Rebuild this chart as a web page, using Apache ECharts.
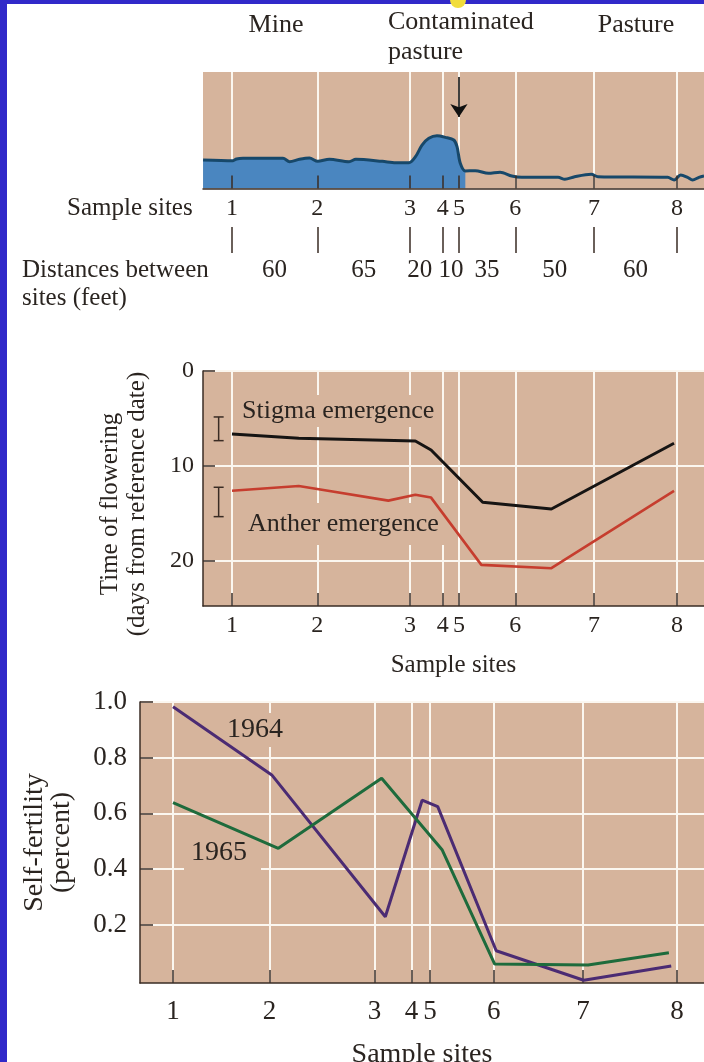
<!DOCTYPE html>
<html>
<head>
<meta charset="utf-8">
<script src="https://cdn.jsdelivr.net/npm/echarts@6/dist/echarts.min.js"></script>
<style>
html,body{margin:0;padding:0;background:#3129c9;}
#c{width:704px;height:1062px;}
</style>
</head>
<body>
<div id="c"></div>
<script>
// ---------------- DATA ----------------
const sites = ['1', '2', '3', '4', '5', '6', '7', '8'];
// position of each sample site along the transect (feet from site 1)
const siteX = [0, 57.5, 120, 142, 153, 191, 244, 300];
const distances = ['60', '65', '20', '10', '35', '50', '60'];
// where the distance figures sit along the transect (feet)
const distanceLabelX = [28.7, 88.8, 126.6, 147.6, 171.9, 217.5, 272];
const zoneLabels = ['Mine', 'Contaminated\npasture', 'Pasture'];

// top panel: soil-contamination profile along the transect
const profileX = [-19.5, 0.7, 3.0, 7.4, 34.4, 38.8, 45.5, 52.2, 57.8, 65.6, 78.9, 83.5, 101.4, 110.3, 119.3, 123.7,
  128.1, 132.7, 138.2, 143.9, 149.5, 151.7, 153.9, 157.3, 164.0, 172.9, 180.7, 188.6, 195.3, 219.8, 224.4, 231.0,
  242.2, 246.7, 293.7, 298.1, 302.5, 307.1, 310.5, 314.8, 318.2];
const profileLevel = [24.5, 23.9, 25.3, 25.9, 25.9, 23.0, 25.1, 26.2, 23.3, 25.1, 23.0, 25.1, 23.3, 22.1, 22.1, 27.3,
  37.3, 43.1, 45.3, 43.9, 41.6, 35.9, 21.6, 15.0, 15.3, 13.0, 13.9, 10.7, 9.6, 9.6, 7.9, 10.1,
  12.2, 10.1, 9.6, 7.3, 11.6, 9.6, 7.3, 9.6, 10.7];
const contaminatedUntilX = 157.3;   // blue fill stops here
const arrowAtSite = 4;              // index of site 5
const arrowFromTo = [95.7, 61.4];

// middle panel: time of flowering (days from reference date)
const stigmaX = [0, 45, 123.6, 134.2, 169, 215.3, 298];
const stigmaDays = [6.65, 7.10, 7.38, 8.33, 13.85, 14.56, 7.63];
const antherX = [0, 45, 58.5, 105.4, 123.6, 134.2, 168.1, 215.3, 298];
const antherDays = [12.63, 12.13, 12.48, 13.68, 13.05, 13.36, 20.46, 20.81, 12.66];
const errorBarX = -9;
const errorBarLow = [4.85, 12.27];
const errorBarHigh = [7.35, 15.37];
const dayTicks = [0, 10, 20];

// bottom panel: self-fertility
const fert1964X = [0, 58.8, 126.4, 148.3, 157.6, 192.4, 244.5, 296.6];
const fert1964 = [0.983, 0.738, 0.228, 0.647, 0.624, 0.106, 0.0, 0.051];
const fert1965X = [0, 62.7, 124.2, 160.3, 191.5, 247.1, 295.2];
const fert1965 = [0.638, 0.474, 0.726, 0.468, 0.058, 0.055, 0.099];
const fertTicks = [0.2, 0.4, 0.6, 0.8, 1.0];

// ---------------- STYLE ----------------
const FONT = '"Liberation Serif","Times New Roman",serif';
const INK = '#2a2420';
const BEIGE = '#d6b49c';
const GRIDW = '#fbf7f0';
const AXIS = '#3a2c24';
const FILL = '#4a86c0';

const zip = (xs, ys) => xs.map((x, i) => [x, ys[i]]);
const nearestIdx = (arr, v) => { let b = 0; arr.forEach((a, i) => { if (Math.abs(a - v) < Math.abs(arr[b] - v)) b = i; }); return b; };
const siteFmt = v => sites[nearestIdx(siteX, v)];

const X1 = [-19.55, 318.2];   // top & middle panels
const X3 = [-19.64, 316.1];   // bottom panel

function bottomSiteAxis(gridIndex, range, fontSize, margin, name, nameGap, nameSize) {
  return {
    type: 'value', gridIndex, min: range[0], max: range[1], position: 'bottom', z: 0,
    name, nameLocation: 'middle', nameGap,
    nameTextStyle: { color: INK, fontFamily: FONT, fontSize: nameSize },
    axisLine: { show: true, onZero: false, lineStyle: { color: AXIS, width: 1.5 } },
    axisTick: { show: true, inside: true, length: 13, customValues: siteX, lineStyle: { color: AXIS, width: 1.5 } },
    axisLabel: { show: true, customValues: siteX, formatter: siteFmt, color: INK, fontFamily: FONT, fontSize, margin },
    splitLine: { show: true, lineStyle: { color: GRIDW, width: 2 } }
  };
}

const txt = (text, x, y, size, extra, z) => ({
  type: 'text', x, y, z: z == null ? 50 : z, silent: true,
  style: Object.assign({
    text, fill: INK, font: size + 'px ' + FONT,
    textAlign: 'left', textVerticalAlign: 'middle', align: 'left', verticalAlign: 'middle'
  }, extra || {})
});

const chart = echarts.init(document.getElementById('c'), null, { renderer: 'canvas' });
chart.setOption({
  animation: false,
  backgroundColor: '#3129c9',
  textStyle: { fontFamily: FONT },
  grid: [
    { left: 203, right: 0, top: 72, height: 116.5, show: true, backgroundColor: BEIGE, borderWidth: 0, outerBoundsMode: 'none' },
    { left: 203, right: 0, top: 227, height: 26, show: false, outerBoundsMode: 'none' },
    { left: 203, right: 0, top: 371, height: 235, show: true, backgroundColor: BEIGE, borderWidth: 0, outerBoundsMode: 'none' },
    { left: 140, right: 0, top: 702, height: 281, show: true, backgroundColor: BEIGE, borderWidth: 0, outerBoundsMode: 'none' }
  ],
  xAxis: [
    { // top panel: white site lines only
      type: 'value', gridIndex: 0, min: X1[0], max: X1[1], position: 'top', z: 0,
      axisLine: { show: false, onZero: false },
      axisTick: { show: false, customValues: siteX },
      axisLabel: { show: false, customValues: siteX },
      splitLine: { show: true, lineStyle: { color: GRIDW, width: 2 } }
    },
    { // top panel: axis line, ticks and site numbers (above the fill)
      type: 'value', gridIndex: 0, min: X1[0], max: X1[1], position: 'bottom', z: 5,
      axisLine: { show: true, onZero: false, lineStyle: { color: AXIS, width: 1.5 } },
      axisTick: { show: true, inside: true, length: 13, customValues: siteX, lineStyle: { color: AXIS, width: 1.5 } },
      axisLabel: { show: true, customValues: siteX, formatter: siteFmt, color: INK, fontFamily: FONT, fontSize: 24, margin: 8 },
      splitLine: { show: false }
    },
    { // distance strip
      type: 'value', gridIndex: 1, min: X1[0], max: X1[1], position: 'bottom',
      axisLine: { show: false, onZero: false },
      axisTick: { show: true, inside: true, length: 26, customValues: siteX, lineStyle: { color: AXIS, width: 1.5 } },
      axisLabel: { show: true, customValues: distanceLabelX, formatter: v => distances[nearestIdx(distanceLabelX, v)],
        color: INK, fontFamily: FONT, fontSize: 25, margin: 5 },
      splitLine: { show: false }
    },
    bottomSiteAxis(2, X1, 24, 8, 'Sample sites', 47, 25),
    bottomSiteAxis(3, X3, 27, 15, 'Sample sites', 58, 28)
  ],
  yAxis: [
    { type: 'value', gridIndex: 0, min: 0, max: 100, show: false, splitLine: { show: false } },
    { type: 'value', gridIndex: 1, min: 0, max: 1, show: false, splitLine: { show: false } },
    {
      type: 'value', gridIndex: 2, min: 0, max: 24.8, inverse: true, position: 'left',
      name: 'Time of flowering\n(days from reference date)', nameLocation: 'middle', nameGap: 52,
      nameTextStyle: { color: INK, fontFamily: FONT, fontSize: 25, lineHeight: 27, padding: [0, 31, 0, 0] },
      axisLine: { show: true, onZero: false, lineStyle: { color: AXIS, width: 1.5 } },
      axisTick: { show: true, inside: true, length: 12, customValues: dayTicks, lineStyle: { color: AXIS, width: 1.5 } },
      axisLabel: { show: true, customValues: dayTicks, color: INK, fontFamily: FONT, fontSize: 24, margin: 9 },
      splitLine: { show: true, lineStyle: { color: GRIDW, width: 2 } }
    },
    {
      type: 'value', gridIndex: 3, min: -0.01, max: 1.0, position: 'left',
      name: 'Self-fertility\n(percent)', nameLocation: 'middle', nameGap: 65,
      nameTextStyle: { color: INK, fontFamily: FONT, fontSize: 28, lineHeight: 27 },
      axisLine: { show: true, onZero: false, lineStyle: { color: AXIS, width: 1.5 } },
      axisTick: { show: true, inside: true, length: 13, customValues: fertTicks, lineStyle: { color: AXIS, width: 1.5 } },
      axisLabel: { show: true, customValues: fertTicks, formatter: v => v.toFixed(1), color: INK, fontFamily: FONT, fontSize: 27, margin: 13 },
      splitLine: { show: true, lineStyle: { color: GRIDW, width: 2 } }
    }
  ],
  series: [
    {
      type: 'line', name: 'contaminated soil', xAxisIndex: 0, yAxisIndex: 0, silent: true, z: 2,
      data: zip(profileX, profileLevel).filter(p => p[0] <= contaminatedUntilX),
      smooth: 0.3, symbol: 'none', lineStyle: { width: 0 }, areaStyle: { color: FILL, opacity: 1 }
    },
    {
      type: 'line', name: 'profile', xAxisIndex: 0, yAxisIndex: 0, silent: true, z: 3,
      data: zip(profileX, profileLevel), smooth: 0.3, symbol: 'none',
      lineStyle: { color: '#17486a', width: 3 },
      markLine: {
        silent: true, symbol: ['none', 'arrow'], symbolSize: 13, label: { show: false },
        lineStyle: { color: '#111', width: 1.6, type: 'solid' },
        data: [[{ coord: [siteX[arrowAtSite], arrowFromTo[0]] }, { coord: [siteX[arrowAtSite], arrowFromTo[1]] }]]
      }
    },
    {
      type: 'line', name: 'Stigma emergence', xAxisIndex: 3, yAxisIndex: 2, silent: true, z: 3,
      data: zip(stigmaX, stigmaDays), symbol: 'none', lineStyle: { color: '#161413', width: 3 }
    },
    {
      type: 'line', name: 'Anther emergence', xAxisIndex: 3, yAxisIndex: 2, silent: true, z: 3,
      data: zip(antherX, antherDays), symbol: 'none', lineStyle: { color: '#c63d2e', width: 2.6 }
    },
    {
      type: 'custom', name: 'error bars', xAxisIndex: 3, yAxisIndex: 2, silent: true, z: 3,
      data: errorBarLow.map((lo, i) => [errorBarX, lo, errorBarHigh[i]]),
      renderItem: (params, api) => {
        const p1 = api.coord([api.value(0), api.value(1)]);
        const p2 = api.coord([api.value(0), api.value(2)]);
        const w = 5, st = { stroke: AXIS, lineWidth: 1.5 };
        return { type: 'group', children: [
          { type: 'line', shape: { x1: p1[0], y1: p1[1], x2: p2[0], y2: p2[1] }, style: st },
          { type: 'line', shape: { x1: p1[0] - w, y1: p1[1], x2: p1[0] + w, y2: p1[1] }, style: st },
          { type: 'line', shape: { x1: p2[0] - w, y1: p2[1], x2: p2[0] + w, y2: p2[1] }, style: st }
        ] };
      }
    },
    {
      type: 'line', name: '1964', xAxisIndex: 4, yAxisIndex: 3, silent: true, z: 3,
      data: zip(fert1964X, fert1964), symbol: 'none', lineStyle: { color: '#4b2b73', width: 3 }
    },
    {
      type: 'line', name: '1965', xAxisIndex: 4, yAxisIndex: 3, silent: true, z: 3,
      data: zip(fert1965X, fert1965), symbol: 'none', lineStyle: { color: '#1e6b3c', width: 3 }
    }
  ],
  graphic: [
    { type: 'rect', z: -10, silent: true, shape: { x: 7, y: 4, width: 697, height: 1058 }, style: { fill: '#ffffff' } },
    { type: 'circle', z: 60, silent: true, shape: { cx: 458, cy: 0, r: 8 }, style: { fill: '#f1dd3c' } },
    txt(zoneLabels[0], 276, 25, 26, { textAlign: 'center', align: 'center' }),
    txt(zoneLabels[1], 388, 37, 26, { lineHeight: 30 }),
    txt(zoneLabels[2], 636, 25, 26, { textAlign: 'center', align: 'center' }),
    txt('Sample sites', 67, 208, 25),
    txt('Distances between\nsites (feet)', 22, 284, 25, { lineHeight: 28 }),
    txt('Stigma emergence', 236, 411, 26, { backgroundColor: BEIGE, padding: [2, 6, 4, 6] }, 1),
    txt('Anther emergence', 242, 524, 26, { backgroundColor: BEIGE, padding: [10, 6, 6, 6] }, 1),
    txt('1964', 221, 730, 28, { backgroundColor: BEIGE, padding: [3, 6, 3, 6] }, 1),
    txt('1965', 184, 853, 28, { backgroundColor: BEIGE, padding: [3, 14, 10, 7] }, 1)
  ]
});
</script>
</body>
</html>
